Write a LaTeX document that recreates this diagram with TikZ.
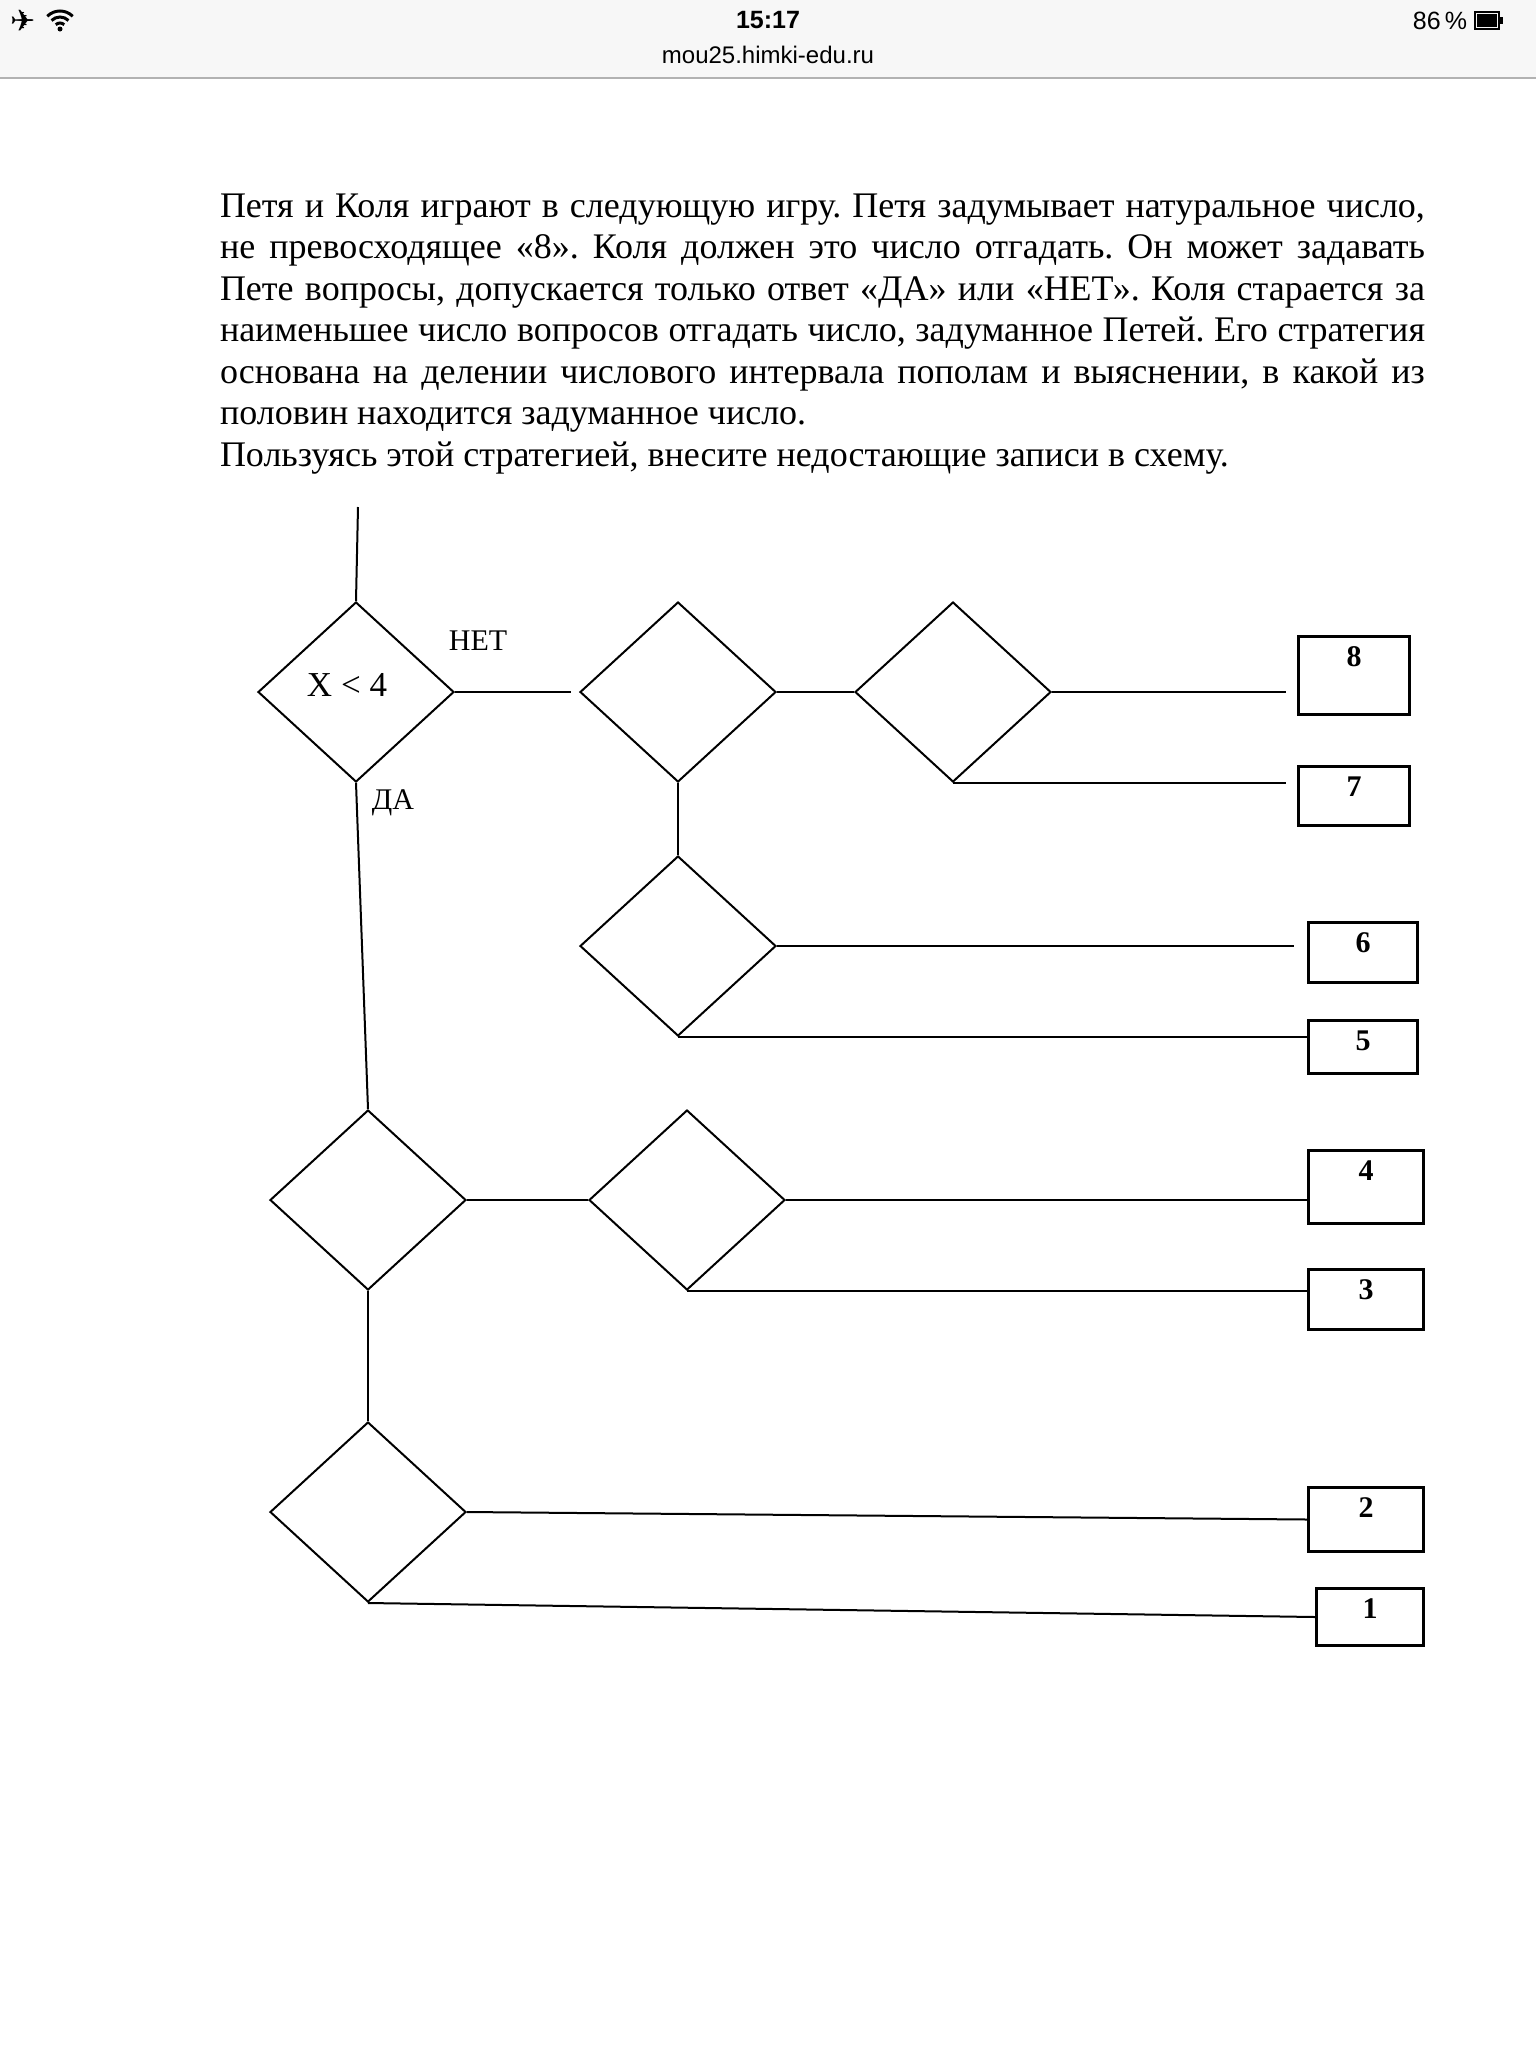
\documentclass[tikz,border=0pt]{standalone}
\usepackage{fontspec}
\setmainfont{Liberation Serif}
\newfontfamily\uisans{Liberation Sans}
\newfontfamily\symfont{DejaVu Sans}
\usetikzlibrary{positioning,shapes.geometric,calc}
\definecolor{barbg}{HTML}{F7F7F7}
\definecolor{barline}{HTML}{B2B2B2}

\begin{document}
\begin{tikzpicture}[x=1pt,y=-1pt,line width=2pt,
  q/.style={draw,diamond,inner sep=0pt,minimum width=196pt,minimum height=180pt},
  a/.style={draw,line width=3pt,inner sep=0pt,anchor=north west},
  num/.style={anchor=center,yshift=-22pt,label distance=0pt,font=\fontsize{30}{30}\selectfont\bfseries},
  lbl/.style={font=\fontsize{30}{30}\selectfont,inner sep=0pt}]
  \useasboundingbox (0,0) rectangle (1536,2048);
  \fill[white] (0,0) rectangle (1536,2048);
  % status bar
  \fill[barbg] (0,0) rectangle (1536,78);
  \draw[barline,line width=1.5pt] (0,78) -- (1536,78);
  \node[font=\symfont\fontsize{30}{30}\selectfont,inner sep=0pt] (plane) at (23,21) {✈};
  \foreach \r in {6,12,18} \draw[line width=3pt] (60,29) ++(225:\r) arc[start angle=225,end angle=315,radius=\r];
  \fill (60,29) circle (2.5);
  \node[font=\uisans\bfseries\fontsize{25}{25}\selectfont,inner sep=0pt] (time) at (768,20) {15:17};
  \node[font=\uisans\fontsize{25}{25}\selectfont,inner sep=0pt] (batt) at (1440,21) {86\,\%};
  \draw[line width=1.5pt] (1475,12) rectangle (1499,29);
  \fill (1477,14) rectangle (1497,27);
  \fill (1500,17) rectangle (1503,24);
  \node[font=\uisans\fontsize{24}{24}\selectfont,inner sep=0pt] (url) at (768,55) {mou25.himki-edu.ru};
  % task text
  \node[anchor=base west,inner sep=0pt,text width=1205pt,align=justify,
    font=\fontsize{36}{41.5}\selectfont\frenchspacing] (task) at (219,217)
    {Петя и Коля играют в следующую игру. Петя задумывает натуральное число,\linebreak
     не превосходящее «8». Коля должен это число отгадать. Он может задавать\linebreak
     Пете вопросы, допускается только ответ «ДА» или «НЕТ». Коля старается за\linebreak
     наименьшее число вопросов отгадать число, задуманное Петей. Его стратегия\linebreak
     основана на делении числового интервала пополам и выяснении, в какой из\linebreak
     половин находится задуманное число.\par
     Пользуясь этой стратегией, внесите недостающие записи в схему.};
  % diamonds
  \node[q,font=\fontsize{35}{35}\selectfont,text depth=0pt] (d1) at (356,692) {};
  \node[q] (d2) at (678,692) {};
  \node[q] (d3) at (953,692) {};
  \node[q] (d4) at (678,946) {};
  \node[q] (d5) at (368,1200) {};
  \node[q] (d6) at (687,1200) {};
  \node[q] (d7) at (368,1512) {};
  \node[font=\fontsize{35}{35}\selectfont,inner sep=0pt] (cond) at (347,685) {X < 4};
  \node[lbl] (net) at (478,641) {НЕТ};
  \node[lbl] (da) at (393,803) {ДА};
  % answer boxes
  \node[a,minimum width=111pt,minimum height=78pt,label={[num]north:8}] (b8) at (1297,635) {};
  \node[a,minimum width=111pt,minimum height=59pt,label={[num]north:7}] (b7) at (1297,765) {};
  \node[a,minimum width=109pt,minimum height=60pt,label={[num]north:6}] (b6) at (1307,921) {};
  \node[a,minimum width=109pt,minimum height=53pt,label={[num]north:5}] (b5) at (1307,1019) {};
  \node[a,minimum width=115pt,minimum height=73pt,label={[num]north:4}] (b4) at (1307,1149) {};
  \node[a,minimum width=115pt,minimum height=60pt,label={[num]north:3}] (b3) at (1307,1268) {};
  \node[a,minimum width=115pt,minimum height=64pt,label={[num]north:2}] (b2) at (1307,1486) {};
  \node[a,minimum width=107pt,minimum height=57pt,label={[num]north:1}] (b1) at (1315,1587) {};
  % connectors
  \coordinate (start) at (358,507);
  \draw (start) -- (d1.north);
  \draw (d1.east) -- ([xshift=-8pt]d2.west);
  \draw (d2.east) -- (d3.west);
  \draw[shorten >=11pt] (d3.east) -- (d3.east -| b8.west);
  \draw[shorten >=11pt] (d3.south) -- (d3.south -| b7.west);
  \draw (d2.south) -- (d4.north);
  \draw[shorten >=13pt] (d4.east) -- (d4.east -| b6.west);
  \draw (d4.south) -- (d4.south -| b5.west);
  \draw (d1.south) -- (d5.north);
  \draw (d5.east) -- (d6.west);
  \draw (d6.east) -- (d6.east -| b4.west);
  \draw (d6.south) -- (d6.south -| b3.west);
  \draw (d5.south) -- (d7.north);
  \draw (d7.east) -- (b2.west);
  \draw (d7.south) -- (b1.west);
\end{tikzpicture}
\end{document}
